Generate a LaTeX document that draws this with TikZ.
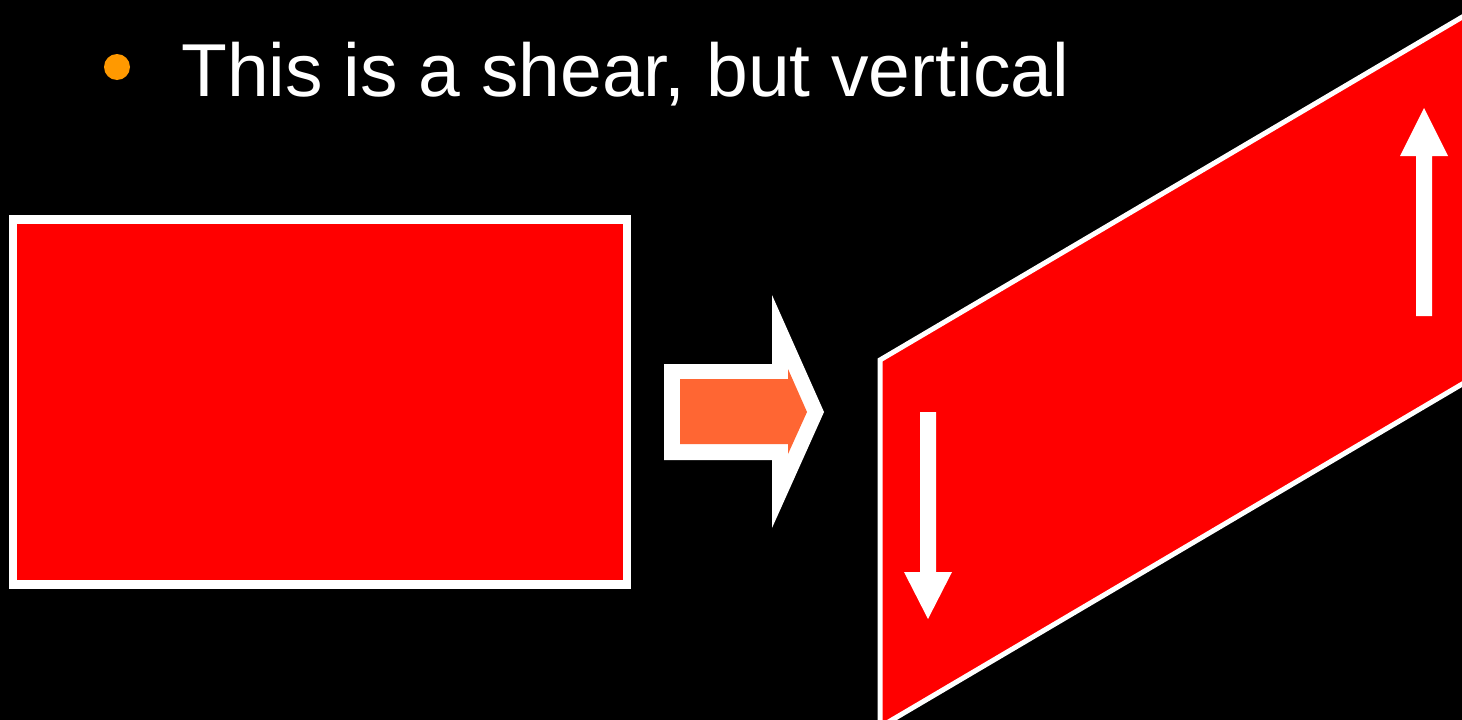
\documentclass[tikz,border=0pt]{standalone}
\usepackage{fontspec}
\setmainfont{Liberation Sans}
\definecolor{bulletorange}{HTML}{FF9900}
\definecolor{arroworange}{HTML}{FF6633}
\definecolor{shapered}{HTML}{FF0000}
\begin{document}
\begin{tikzpicture}[x=1pt,y=-1pt,
  redshape/.style={fill=shapered,draw=white},
  whitearrow/.style={fill=white,draw=none}]
\fill[black] (0,0) rectangle (1462,720);
\useasboundingbox (0,0) rectangle (1462,720);
% bullet and title
\fill[bulletorange] (117,67) circle (13);
\node[anchor=base west,inner sep=0pt,text=white,font=\fontsize{75}{80}\selectfont] (title) at (181,96) {This is a shear, but vertical};
% left rectangle
\draw[redshape,line width=8.5] (13,219.5) rectangle (627,584.5);
% block arrow
\fill[white] (664,364) -- (772,364) -- (772,295) -- (824,412) -- (772,528) -- (772,460) -- (664,460) -- cycle;
\fill[arroworange] (680,379) -- (788,379) -- (788,369) -- (807,412) -- (788,454) -- (788,444) -- (680,444) -- cycle;
% sheared shape
\begin{scope}
\clip (0,0) rectangle (1462,720);
\draw[redshape,line width=5,line join=miter] (880,360) -- (1520,-17) -- (1520,350) -- (880,727) -- cycle;
\end{scope}
% up arrow
\fill[whitearrow] (1416,316) -- (1416,156) -- (1400,156) -- (1424,108) -- (1448,156) -- (1432,156) -- (1432,316) -- cycle;
% down arrow
\fill[whitearrow] (920,412) -- (920,572) -- (904,572) -- (928,619) -- (952,572) -- (936,572) -- (936,412) -- cycle;
\end{tikzpicture}
\end{document}
